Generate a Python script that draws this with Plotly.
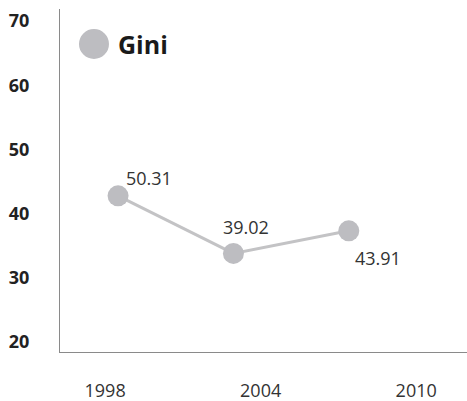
import plotly.graph_objects as go

years = [1998.5, 2002.95, 2007.4]
values = [42.76, 33.78, 37.3]
labels = ["50.31", "39.02", "43.91"]
label_dx = [31, 13, 29]
label_dy = [18, 26, -27]
series_name = "Gini"
x_ticks = [1998, 2004, 2010]
y_ticks = [20, 30, 40, 50, 60, 70]

GREY = "#bdbdc1"
FONT = "Open Sans, Noto Sans, sans-serif"

fig = go.Figure()
fig.add_trace(go.Scatter(
    x=years, y=values, mode="lines+markers",
    line=dict(color="#c3c3c5", width=3),
    marker=dict(color=GREY, size=21),
    showlegend=False, hoverinfo="skip",
))

annotations = []
for x, y, t, dx, dy in zip(years, values, labels, label_dx, label_dy):
    annotations.append(dict(x=x, y=y, text=t, showarrow=False, xshift=dx, yshift=dy,
                            font=dict(family=FONT, size=18, color="#333333")))

annotations.append(dict(xref="paper", yref="paper", x=0.138, y=0.898, text="<b>" + series_name + "</b>",
                        showarrow=False, xanchor="left", yanchor="middle",
                        font=dict(family=FONT, size=25, color="#1a1a1a")))

fig.update_layout(
    width=467, height=401,
    margin=dict(l=60, r=0, t=9, b=49),
    paper_bgcolor="white", plot_bgcolor="white",
    font=dict(family=FONT),
    annotations=annotations,
    shapes=[dict(type="circle", xref="paper", yref="paper",
                 xsizemode="pixel", ysizemode="pixel",
                 xanchor=0.0835, yanchor=0.898,
                 x0=-15, x1=15, y0=-15, y1=15,
                 fillcolor=GREY, line=dict(width=0))],
    xaxis=dict(range=[1996.26, 2011.96], tickvals=x_ticks, ticktext=[str(v) for v in x_ticks],
               showgrid=False, zeroline=False, showline=True, linecolor="#8a8a8a", linewidth=1,
               ticks="", ticklabelstandoff=22,
               tickfont=dict(family=FONT, size=18, color="#333333")),
    yaxis=dict(range=[18.4, 71.9], tickvals=y_ticks, ticktext=["<b>%d</b>" % v for v in y_ticks],
               showgrid=False, zeroline=False, showline=True, linecolor="#8a8a8a", linewidth=1,
               ticks="", ticklabelstandoff=26,
               tickfont=dict(family=FONT, size=18, color="#222222")),
)

fig.write_html("out.html", config={"displayModeBar": False},
               post_script="document.body.style.margin='0';document.body.style.overflow='hidden';")
